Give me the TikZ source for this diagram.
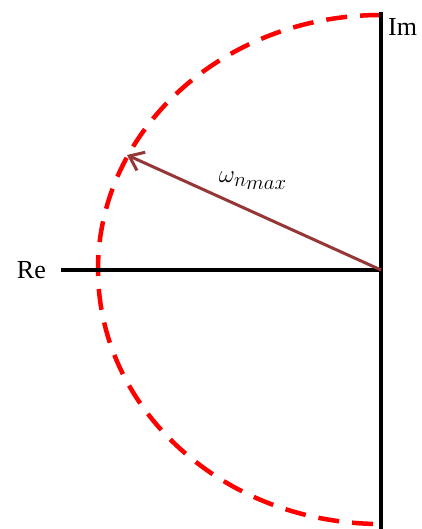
\documentclass[tikz,border=0pt]{standalone}
\usepackage{fontspec}
\setmainfont{Liberation Serif}
\usetikzlibrary{arrows.meta}
\definecolor{arrowred}{RGB}{150,55,55}
\begin{document}
\begin{tikzpicture}[x=1pt,y=-1pt,
  axis/.style={line width=3.5pt,black},
  circ/.style={line width=4.5pt,red,dash pattern=on 21pt off 13pt},
  vec/.style={line width=3pt,arrowred,-{Straight Barb[length=13pt,width=20pt,line width=3pt]}},
  lbl/.style={font=\fontsize{26}{26}\selectfont,inner sep=0pt}]
\useasboundingbox (0,0) rectangle (422,529);
\coordinate (O) at (381,270);
\coordinate (top) at (381,12);
\coordinate (bot) at (381,529);
\coordinate (left) at (61,270);
\draw[circ] (381,15) arc[start angle=270,end angle=90,x radius=283,y radius=254.5];
\draw[axis] (top) -- (bot);
\draw[axis] (left) -- (O);
\coordinate (tip) at (127,155);
\draw[vec] (O) -- (tip);
\node[lbl,anchor=east] (re) at (46,270) {Re};
\node[lbl,anchor=west] (im) at (388,27) {Im};
\node[inner sep=0pt] (w) at (253,181) {\fontsize{31}{31}\selectfont$\omega_{n_{\scriptstyle max}}$};
\end{tikzpicture}
\end{document}
